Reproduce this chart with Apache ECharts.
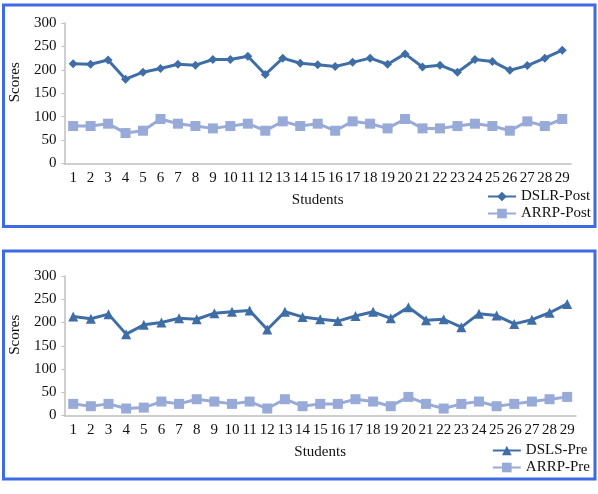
<!DOCTYPE html>
<html>
<head>
<meta charset="utf-8">
<script src="https://cdn.jsdelivr.net/npm/echarts@6/dist/echarts.min.js"></script>
<style>
html,body{margin:0;padding:0;background:#fff;}
#c{width:598px;height:494px;}
</style>
</head>
<body>
<div id="c"></div>
<script>
const students = ['1','2','3','4','5','6','7','8','9','10','11','12','13','14','15','16','17','18','19','20','21','22','23','24','25','26','27','28','29'];
const yTicks = [0, 50, 100, 150, 200, 250, 300];

const dslrPost = [213, 212, 221, 180, 195, 203, 212, 210, 222, 222, 229, 190, 225, 214, 211, 207, 216, 225, 212, 234, 206, 210, 195, 222, 218, 199, 209, 225, 242];
const arrpPost = [80, 80, 85, 65, 70, 95, 85, 80, 75, 80, 85, 70, 90, 80, 85, 70, 90, 85, 75, 95, 75, 75, 80, 85, 80, 70, 90, 80, 95];

const dslsPre = [213, 208, 218, 175, 195, 200, 209, 207, 220, 223, 226, 185, 223, 212, 207, 203, 214, 223, 209, 233, 205, 207, 190, 219, 215, 197, 206, 221, 240];
const arrpPre = [25, 20, 25, 15, 17, 30, 25, 35, 30, 25, 30, 15, 35, 20, 25, 25, 35, 30, 20, 40, 25, 15, 25, 30, 20, 25, 30, 35, 40];

const FONT = '"Liberation Serif", "DejaVu Serif", serif';
const DARK = '#3F6EA7';
const LIGHT = '#98AAD7';
const BORDER = '#3E6AE6';
const AXIS = '#BFBFBF';

function xAx(gi) {
  return {
    type: 'category', gridIndex: gi, data: students, boundaryGap: true,
    name: 'Students', nameLocation: 'middle', nameGap: 29,
    nameTextStyle: { fontFamily: FONT, fontSize: 15, color: '#111' },
    axisLine: { lineStyle: { color: AXIS, width: 1.5 } },
    axisTick: { show: false },
    axisLabel: { interval: 0, fontFamily: FONT, fontSize: 15, color: '#111', margin: 7 }
  };
}
function yAx(gi) {
  return {
    type: 'value', gridIndex: gi, min: 0, max: 300, interval: 50,
    name: 'Scores', nameLocation: 'middle', nameGap: 33, nameRotate: 90,
    nameTextStyle: { fontFamily: FONT, fontSize: 15, color: '#111', padding: [0, 0, 0, 22] },
    axisLine: { show: true, lineStyle: { color: AXIS, width: 1.5 } },
    axisTick: { show: true, length: 3, lineStyle: { color: AXIS } },
    splitLine: { show: false },
    axisLabel: { fontFamily: FONT, fontSize: 15, color: '#111', margin: 8,
      formatter: v => yTicks.includes(v) ? String(v) : '' }
  };
}
function ser(name, data, gi, color, symbol, size) {
  return {
    name, type: 'line', data, xAxisIndex: gi, yAxisIndex: gi,
    symbol, symbolSize: size, showSymbol: true,
    lineStyle: { color, width: 3 }, itemStyle: { color },
    animation: false
  };
}

const chart = echarts.init(document.getElementById('c'), null, { renderer: 'canvas' });
chart.setOption({
  animation: false,
  backgroundColor: '#fff',
  grid: [
    { left: 61, right: 27, top: 23, height: 140.5 },
    { left: 61, right: 22, top: 276, height: 139.5 }
  ],
  xAxis: [xAx(0), xAx(1)],
  yAxis: [yAx(0), yAx(1)],
  legend: [
    { data: ['DSLR-Post', 'ARRP-Post'], orient: 'vertical', right: 2, top: 184,
      itemWidth: 28, itemHeight: 12, itemGap: 2,
      textStyle: { fontFamily: FONT, fontSize: 15, color: '#111' } },
    { data: ['DSLS-Pre', 'ARRP-Pre'], orient: 'vertical', right: 3, top: 438,
      itemWidth: 28, itemHeight: 12, itemGap: 2,
      textStyle: { fontFamily: FONT, fontSize: 15, color: '#111' } }
  ],
  series: [
    ser('DSLR-Post', dslrPost, 0, DARK, 'diamond', 9),
    ser('ARRP-Post', arrpPost, 0, LIGHT, 'rect', 10),
    ser('DSLS-Pre', dslsPre, 1, DARK, 'triangle', 10),
    ser('ARRP-Pre', arrpPre, 1, LIGHT, 'rect', 10)
  ],
  graphic: [
    { type: 'rect', shape: { x: 3.5, y: 5, width: 591.5, height: 221.5 },
      style: { fill: 'none', stroke: BORDER, lineWidth: 3 }, silent: true },
    { type: 'rect', shape: { x: 3.5, y: 251, width: 591.5, height: 228 },
      style: { fill: 'none', stroke: BORDER, lineWidth: 3 }, silent: true }
  ]
});
</script>
</body>
</html>
